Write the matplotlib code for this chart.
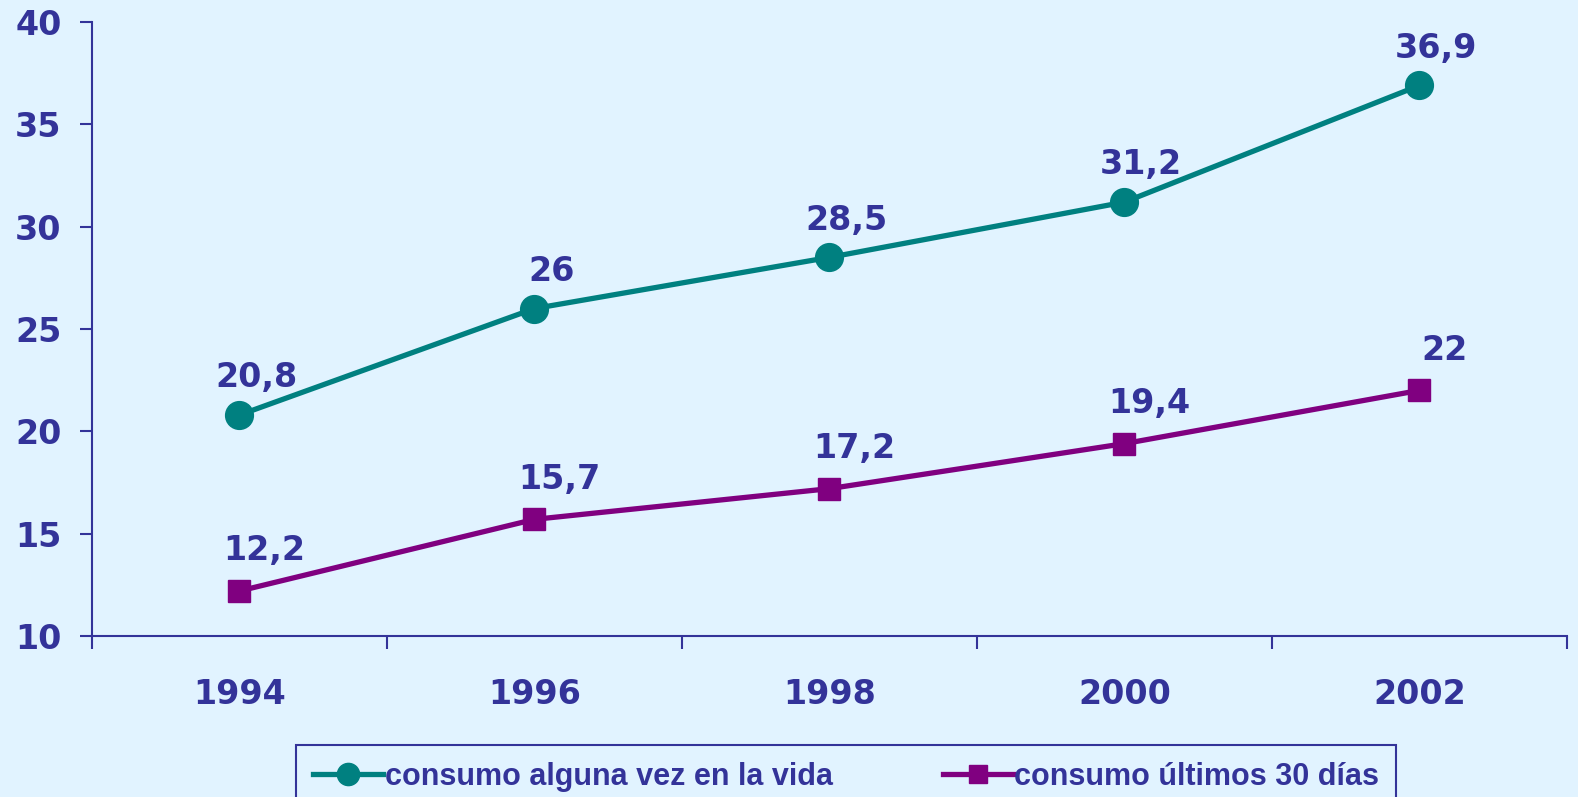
import matplotlib
matplotlib.use("Agg")
import matplotlib.pyplot as plt
from matplotlib import font_manager as fm

# datos
years = ["1994", "1996", "1998", "2000", "2002"]
alguna_vez = [20.8, 26.0, 28.5, 31.2, 36.9]
ultimos_30 = [12.2, 15.7, 17.2, 19.4, 22.0]
etiquetas_alguna = ["20,8", "26", "28,5", "31,2", "36,9"]
etiquetas_30 = ["12,2", "15,7", "17,2", "19,4", "22"]

azul = "#333399"
teal = "#008080"
morado = "#800080"
fondo = "#E1F3FF"

# fuente estrecha para la leyenda, si existe
fuente_leyenda = "DejaVu Sans"
for f in ["Liberation Sans Narrow", "Liberation Sans"]:
    try:
        fm.findfont(f, fallback_to_default=False)
        fuente_leyenda = f
        break
    except Exception:
        pass

fig = plt.figure(figsize=(15.78, 7.97), dpi=100, facecolor=fondo)
ax = fig.add_axes([0.0583, 0.202, 0.9347, 0.7704])
ax.set_facecolor(fondo)

x = list(range(len(years)))
ax.plot(x, alguna_vez, color=teal, lw=3.8, marker="o", ms=20,
        label="consumo alguna vez en la vida", zorder=3)
ax.plot(x, ultimos_30, color=morado, lw=3.8, marker="s", ms=16,
        label="consumo últimos 30 días", zorder=3)

for xi, v, t in zip(x, alguna_vez, etiquetas_alguna):
    ax.annotate(t, (xi, v), xytext=(12, 15), textcoords="offset points",
                ha="center", va="bottom", color=azul, fontsize=24,
                fontweight="bold", zorder=4)
for xi, v, t in zip(x, ultimos_30, etiquetas_30):
    ax.annotate(t, (xi, v), xytext=(18, 17), textcoords="offset points",
                ha="center", va="bottom", color=azul, fontsize=24,
                fontweight="bold", zorder=4)

ax.set_xlim(-0.5, len(years) - 0.5)
ax.set_ylim(10, 40)
ax.set_yticks(range(10, 41, 5))

# eje de categorias: marcas en los limites, etiquetas en el centro
ax.set_xticks([i - 0.5 for i in range(len(years) + 1)])
ax.set_xticklabels([])
ax.set_xticks(x, minor=True)
ax.set_xticklabels(years, minor=True)
ax.tick_params(axis="x", which="major", length=9, width=1.5, color=azul, direction="out")
ax.tick_params(axis="x", which="minor", length=0, pad=30, labelsize=24,
               labelcolor=azul)
ax.tick_params(axis="y", length=9, width=1.5, color=azul, direction="out",
               pad=13, labelsize=24, labelcolor=azul)
for lab in ax.get_xticklabels(minor=True) + ax.get_yticklabels():
    lab.set_fontweight("bold")

for s in ["top", "right"]:
    ax.spines[s].set_visible(False)
for s in ["left", "bottom"]:
    ax.spines[s].set_color(azul)
    ax.spines[s].set_linewidth(1.5)

leg = fig.legend(loc="upper left", bbox_to_anchor=(296 / 1578, 1 - 745 / 797),
                 borderaxespad=0, ncol=2, frameon=True, fancybox=False,
                 handlelength=2.3, handletextpad=0.05, columnspacing=3.6,
                 borderpad=0.55,
                 prop={"family": fuente_leyenda, "weight": "bold", "size": 22},
                 markerscale=0.8)
leg.get_frame().set_edgecolor(azul)
leg.get_frame().set_facecolor(fondo)
leg.get_frame().set_linewidth(1.5)
leg.get_frame().set_alpha(1)
for t in leg.get_texts():
    t.set_color(azul)

fig.savefig("out.png", dpi=100, facecolor=fondo)
